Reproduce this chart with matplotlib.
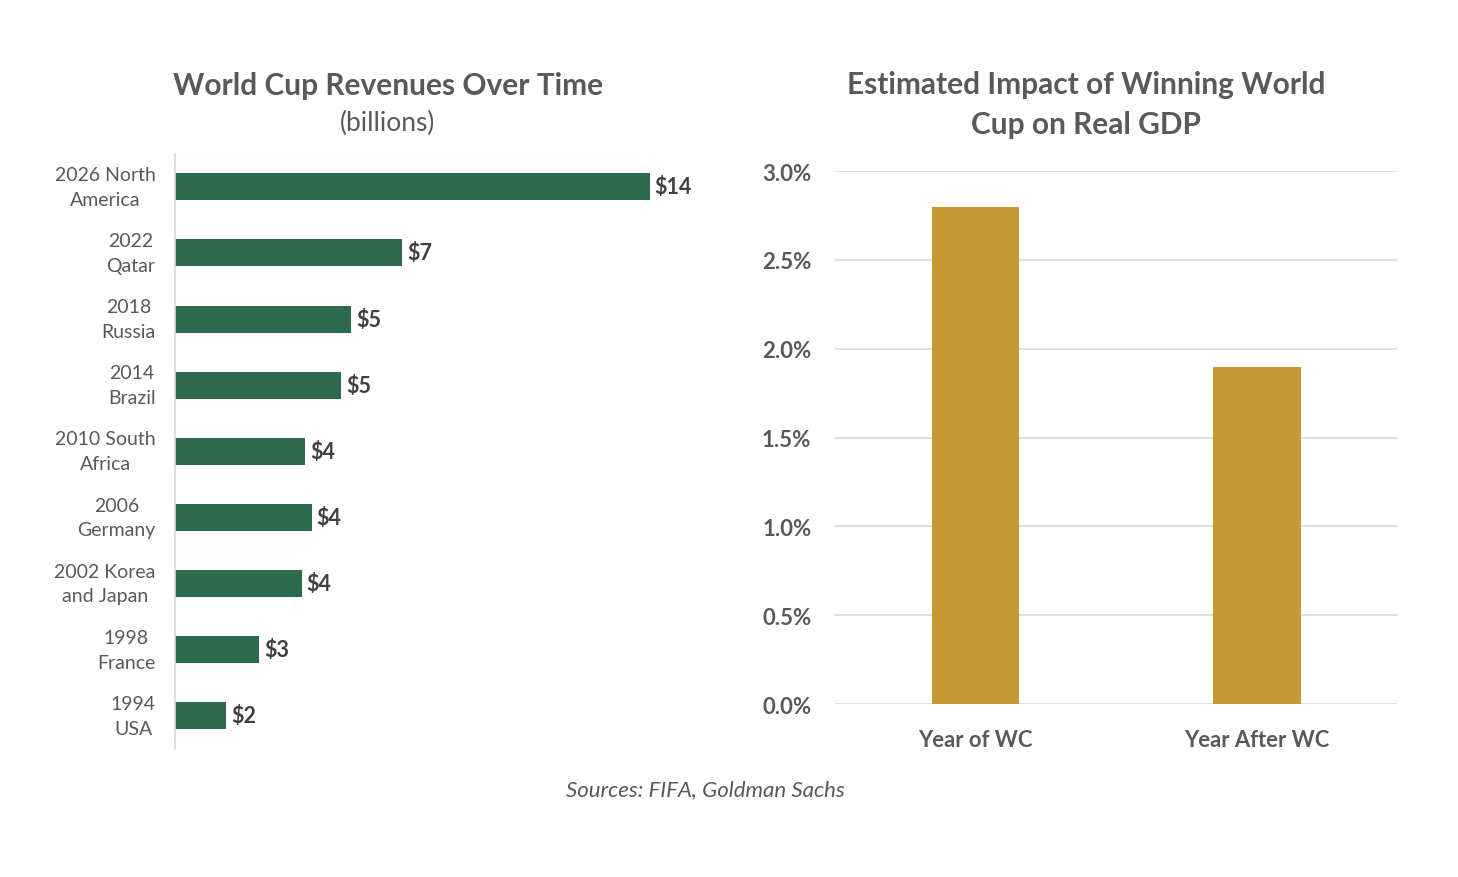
import matplotlib
matplotlib.use('Agg')
from matplotlib import pyplot as plt
from matplotlib.ticker import FuncFormatter

plt.rcParams['font.family'] = ['Lato', 'DejaVu Sans']

# left chart: World Cup revenues (billions of USD), top to bottom
cups = ['2026 North\nAmerica', '2022\nQatar', '2018\nRussia', '2014\nBrazil',
        '2010 South\nAfrica', '2006\nGermany', '2002 Korea\nand Japan',
        '1998\nFrance', '1994\nUSA']
revenues = [14.4, 6.9, 5.35, 5.05, 3.95, 4.15, 3.85, 2.55, 1.55]

# right chart: estimated impact on real GDP (%)
periods = ['Year of WC', 'Year After WC']
gdp_impact = [2.8, 1.9]

GREEN = '#2E6B4E'
GOLD = '#C39A33'
TEXT = '#595959'
GRID = '#D9D9D9'

fig = plt.figure(figsize=(14.58, 8.78), dpi=100)

# --- revenues ---
ax1 = fig.add_axes([0.120, 0.1458, 0.374, 0.678])
ypos = list(range(len(cups)))
bars = ax1.barh(ypos, revenues, height=0.41, color=GREEN)
ax1.set_ylim(len(cups) - 0.5, -0.5)
ax1.set_xlim(0, 16.54)
ax1.set_yticks(ypos)
ax1.set_yticklabels(cups, multialignment='center', fontsize=14, color=TEXT,
                    linespacing=1.55, va='center')
ax1.tick_params(axis='y', length=0, pad=14)
ax1.set_xticks([])
for s in ['top', 'right', 'bottom']:
    ax1.spines[s].set_visible(False)
ax1.spines['left'].set_color(GRID)
ax1.spines['left'].set_linewidth(1.2)
for b, v in zip(bars, revenues):
    ax1.annotate(f'${v:.0f}', (b.get_width(), b.get_y() + b.get_height() / 2),
                 xytext=(3.5, 0), textcoords='offset points', va='center',
                 fontsize=15.5, fontweight='bold', color='#404040')

fig.text(0.266, 0.902, 'World Cup Revenues Over Time', ha='center', va='center',
         fontsize=21.5, fontweight='bold', color=TEXT)
fig.text(0.266, 0.859, '(billions)', ha='center', va='center',
         fontsize=19, color=TEXT)

# --- GDP impact ---
ax2 = fig.add_axes([0.5727, 0.197, 0.3855, 0.607])
ax2.bar(range(len(periods)), gdp_impact, width=0.313, color=GOLD, zorder=3)
ax2.set_xlim(-0.5, len(periods) - 0.5)
ax2.set_ylim(0, 3.0)
ax2.set_yticks([0, 0.5, 1.0, 1.5, 2.0, 2.5, 3.0])
ax2.yaxis.set_major_formatter(FuncFormatter(lambda v, p: f'{v:.1f}%'))
ax2.set_xticks(range(len(periods)))
ax2.set_xticklabels(periods)
ax2.tick_params(axis='y', length=0, pad=17, labelsize=16, labelcolor=TEXT)
ax2.tick_params(axis='x', length=0, pad=18, labelsize=15.8, labelcolor=TEXT)
for lab in ax2.get_yticklabels() + ax2.get_xticklabels():
    lab.set_fontweight('bold')
ax2.grid(axis='y', color=GRID, linewidth=1.2, zorder=0)
for s in ['top', 'right', 'left', 'bottom']:
    ax2.spines[s].set_visible(False)

fig.text(0.745, 0.880, 'Estimated Impact of Winning World\nCup on Real GDP',
         ha='center', va='center', fontsize=21.5, fontweight='bold', color=TEXT,
         linespacing=1.52)

fig.text(0.484, 0.100, 'Sources: FIFA, Goldman Sachs', ha='center', va='center',
         fontsize=16, style='italic', color=TEXT)

fig.savefig('out.png', dpi=100, facecolor='white')
